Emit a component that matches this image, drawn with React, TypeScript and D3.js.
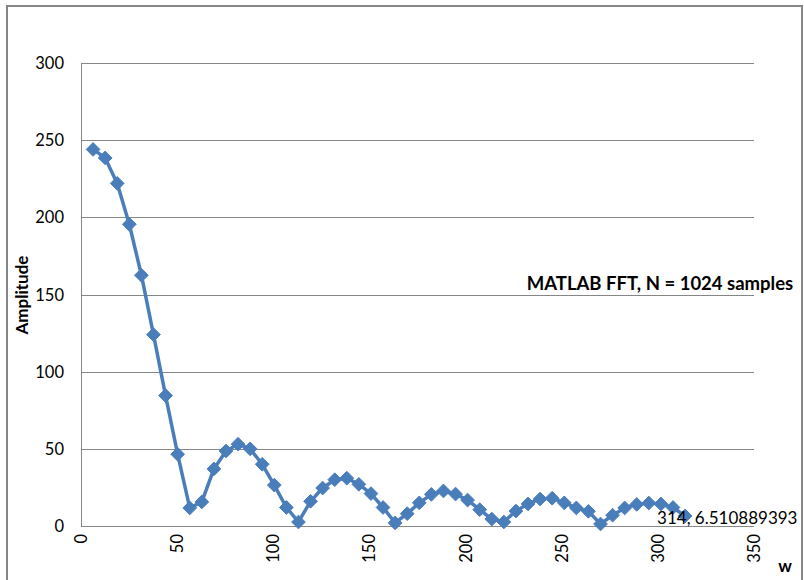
import { useEffect, useRef } from 'react';
import * as d3 from 'd3';

// w = 2*pi*k, k = 1..50
const W_VALUES = [
  6.28, 12.57, 18.85, 25.13, 31.42, 37.7, 43.98, 50.27, 56.55, 62.83,
  69.12, 75.4, 81.68, 87.96, 94.25, 100.53, 106.81, 113.1, 119.38, 125.66,
  131.95, 138.23, 144.51, 150.8, 157.08, 163.36, 169.65, 175.93, 182.21, 188.5,
  194.78, 201.06, 207.35, 213.63, 219.91, 226.19, 232.48, 238.76, 245.04, 251.33,
  257.61, 263.89, 270.18, 276.46, 282.74, 289.03, 295.31, 301.59, 307.88, 314.16,
];
const AMPLITUDES = [
  244, 238.5, 222, 195.5, 162.5, 124, 84.5, 46.5, 11.7, 15.6,
  37, 48.6, 53, 50, 40, 26.5, 12, 2.6, 16, 24.6,
  30, 31, 27, 21, 12, 2, 8, 15, 20.5, 22.7,
  20.7, 16.8, 10.6, 4.5, 2.6, 9.7, 14.3, 17.5, 18, 15,
  11.7, 9.5, 1.3, 7, 11.7, 14, 14.9, 14.3, 12, 6.51,
];
const X_TICKS = [0, 50, 100, 150, 200, 250, 300, 350];
const Y_TICKS = [0, 50, 100, 150, 200, 250, 300];
const LAST_LABEL = '314, 6.510889393';

const FONT = 'Lato, Calibri, sans-serif';
const GRAY = '#868686';
const BLUE = '#4a7ebb';

export default function App() {
  const ref = useRef<SVGSVGElement>(null);

  useEffect(() => {
    if (!ref.current) return;
    const svg = d3.select(ref.current);
    svg.selectAll('*').remove();

    const width = 804;
    const height = 580;
    const plot = { left: 81, right: 754, top: 63, bottom: 526 };

    svg.attr('width', width).attr('height', height);
    svg.append('rect').attr('width', width).attr('height', height).attr('fill', '#fff');

    // outer chart border
    svg.append('rect')
      .attr('x', 7).attr('y', 6).attr('width', 795).attr('height', 620)
      .attr('fill', 'none').attr('stroke', GRAY).attr('stroke-width', 2);

    const x = d3.scaleLinear().domain([0, 350]).range([plot.left, plot.right]);
    const y = d3.scaleLinear().domain([0, 300]).range([plot.bottom, plot.top]);

    // grid lines
    svg.append('g')
      .selectAll('line')
      .data(Y_TICKS.filter(d => d > 0))
      .join('line')
      .attr('x1', plot.left).attr('x2', plot.right)
      .attr('y1', d => Math.round(y(d)) + 0.5).attr('y2', d => Math.round(y(d)) + 0.5)
      .attr('stroke', GRAY).attr('stroke-width', 1);

    // axes
    svg.append('line')
      .attr('x1', plot.left + 0.5).attr('x2', plot.left + 0.5)
      .attr('y1', plot.top).attr('y2', plot.bottom)
      .attr('stroke', GRAY);
    svg.append('line')
      .attr('x1', plot.left).attr('x2', plot.right)
      .attr('y1', plot.bottom + 0.5).attr('y2', plot.bottom + 0.5)
      .attr('stroke', GRAY);

    // y tick labels
    svg.append('g')
      .selectAll('text')
      .data(Y_TICKS)
      .join('text')
      .attr('x', 64).attr('y', d => y(d) + 6)
      .attr('text-anchor', 'end')
      .attr('font-family', FONT).attr('font-size', 16.5).attr('fill', '#000')
      .text(d => d);

    // x tick labels (rotated)
    svg.append('g')
      .selectAll('text')
      .data(X_TICKS)
      .join('text')
      .attr('transform', d => `translate(${x(d) + 6},534) rotate(-90)`)
      .attr('text-anchor', 'end')
      .attr('font-family', FONT).attr('font-size', 16.5).attr('fill', '#000')
      .text(d => d);

    // axis titles
    svg.append('text')
      .attr('transform', 'translate(28,295) rotate(-90)')
      .attr('text-anchor', 'middle')
      .attr('font-family', FONT).attr('font-size', 17).attr('font-weight', 'bold')
      .text('Amplitude');
    svg.append('text')
      .attr('x', 785).attr('y', 572)
      .attr('text-anchor', 'middle')
      .attr('font-family', FONT).attr('font-size', 17).attr('font-weight', 'bold')
      .text('w');

    // series line
    const pts = W_VALUES.map((w, i) => [w, AMPLITUDES[i]] as [number, number]);
    const lineFn = d3.line<[number, number]>().x(d => x(d[0])).y(d => y(d[1]));
    svg.append('path')
      .datum(pts)
      .attr('fill', 'none')
      .attr('stroke', BLUE)
      .attr('stroke-width', 3.5)
      .attr('stroke-linejoin', 'round')
      .attr('d', lineFn);

    // diamond markers
    const diamond = d3.symbol().type(d3.symbolDiamond2).size(120);
    svg.append('g')
      .selectAll('path')
      .data(pts)
      .join('path')
      .attr('transform', d => `translate(${x(d[0])},${y(d[1])})`)
      .attr('d', diamond)
      .attr('fill', BLUE)
      .attr('stroke', BLUE)
      .attr('stroke-width', 1);

    // data label on last point
    const last = pts[pts.length - 1];
    svg.append('text')
      .attr('x', x(last[0]) - 28).attr('y', y(last[1]) + 8)
      .attr('font-family', FONT).attr('font-size', 17).attr('fill', '#000')
      .text(LAST_LABEL);

    // chart title
    svg.append('text')
      .attr('x', 660).attr('y', 290)
      .attr('text-anchor', 'middle')
      .attr('font-family', FONT).attr('font-size', 18.5).attr('font-weight', 'bold')
      .text('MATLAB FFT, N = 1024 samples');
  }, []);

  return (
    <div style={{ position: 'fixed', left: 0, top: 0 }}>
      <svg ref={ref} style={{ display: 'block' }} />
    </div>
  );
}
